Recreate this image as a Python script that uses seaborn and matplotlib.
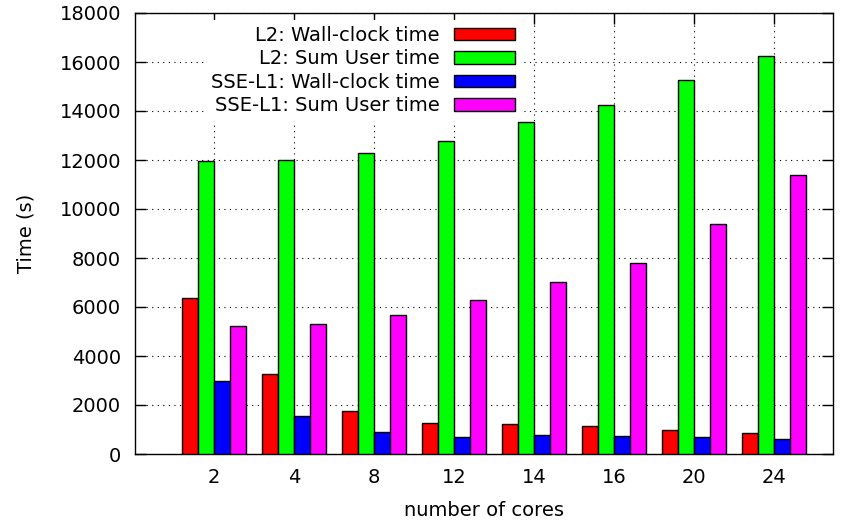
import matplotlib
matplotlib.use("Agg")
import matplotlib.pyplot as plt
import seaborn as sns
import pandas as pd

cores = ["2", "4", "8", "12", "14", "16", "20", "24"]
l2_wall = [6360, 3250, 1740, 1250, 1240, 1130, 970, 860]
l2_sum = [11970, 12010, 12290, 12775, 13540, 14230, 15250, 16230]
sse_wall = [2965, 1550, 885, 710, 765, 735, 685, 630]
sse_sum = [5225, 5320, 5675, 6270, 7020, 7800, 9390, 11390]
series_names = ["L2: Wall-clock time", "L2: Sum User time",
                "SSE-L1: Wall-clock time", "SSE-L1: Sum User time"]
colors = ["#ff0000", "#00ff00", "#0000ff", "#ff00ff"]
y_ticks = list(range(0, 18001, 2000))

rows = []
for name, vals in zip(series_names, [l2_wall, l2_sum, sse_wall, sse_sum]):
    for c, v in zip(cores, vals):
        rows.append({"cores": c, "series": name, "time": v})
df = pd.DataFrame(rows)

sns.set_theme(style="white")
plt.rcParams['font.family'] = ['DejaVu Sans']
plt.rcParams['text.color'] = 'black'
plt.rcParams['axes.labelcolor'] = 'black'
FS = 14

fig = plt.figure(figsize=(8.48, 5.24), dpi=100)
ax = fig.add_axes([135/848, 1-454/524, (833-135)/848, (454-13)/524])

sns.barplot(data=df, x="cores", y="time", hue="series", order=cores,
            hue_order=series_names, palette=colors, width=0.8,
            edgecolor="black", linewidth=1.0, saturation=1, ax=ax, zorder=3)

ax.set_xlim(-0.99, 7.74)
ax.set_ylim(0, 18000)
ax.set_yticks(y_ticks)
ax.set_yticklabels([str(t) for t in y_ticks])
ax.grid(True, which="major", axis="both", color="black", linestyle=(0, (1, 4)), linewidth=0.8, zorder=0)
ax.set_axisbelow(True)
for s in ax.spines.values():
    s.set_color("black")
    s.set_linewidth(1.0)
ax.tick_params(direction="in", length=8, width=1, colors="black", labelsize=FS,
               top=True, right=True, bottom=True, left=True, pad=10)
ax.set_xlabel("number of cores", fontsize=FS, labelpad=10, color="black")
ax.set_ylabel("Time (s)", fontsize=FS, labelpad=17, color="black")

handles, labels = ax.get_legend_handles_labels()
leg = ax.legend(handles, labels, loc="upper right", bbox_to_anchor=(521/848, 1-20/524),
                bbox_transform=fig.transFigure, frameon=True, fancybox=False,
                facecolor="white", edgecolor="none", framealpha=1, markerfirst=False,
                fontsize=FS, handlelength=3.15, handleheight=0.62, labelspacing=0.23,
                handletextpad=0.72, borderpad=0.3, borderaxespad=0)
for t in leg.get_texts():
    t.set_color("black")

fig.savefig("out.png", dpi=100)
